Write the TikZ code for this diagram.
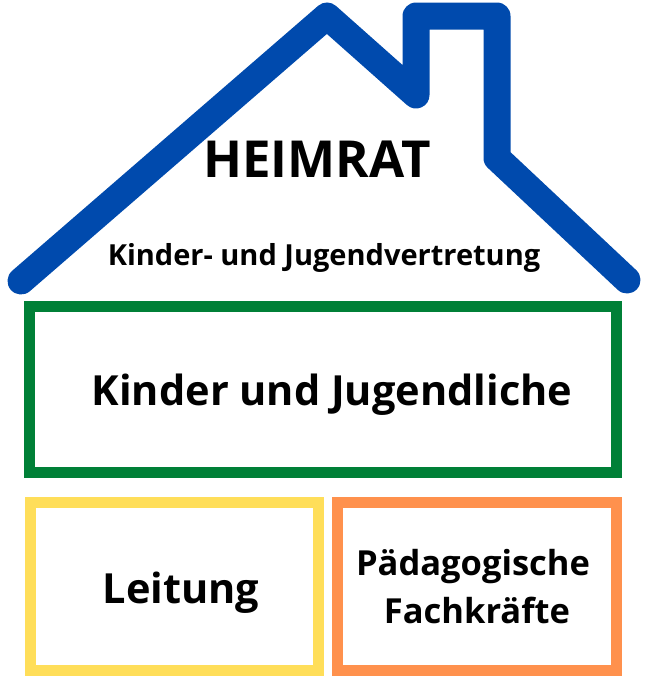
\documentclass[tikz,border=0pt]{standalone}
\usepackage{fontspec}
\setmainfont{Open Sans}
\definecolor{roofblue}{HTML}{004AAD}
\definecolor{boxgreen}{HTML}{008037}
\definecolor{boxyellow}{HTML}{FFDE59}
\definecolor{boxorange}{HTML}{FF914D}
\tikzset{
  roof/.style={draw=roofblue, line width=27pt, line join=round, line cap=round},
  framebox/.style={rectangle, line width=11pt, inner sep=0pt},
  label text/.style={anchor=base, inner sep=0pt, font=\bfseries, text=black}
}
\begin{document}
\begin{tikzpicture}[x=1pt,y=-1pt]
\useasboundingbox[fill=white] (0,0) rectangle (647,689);
% roof
\coordinate (l) at (21,281);
\coordinate (peak) at (327,16);
\coordinate (cb) at (416,95);
\coordinate (ctl) at (416,16);
\coordinate (ctr) at (497,16);
\coordinate (cr) at (497,158);
\coordinate (r) at (627,280);
\draw[roof] (l) -- (peak) -- (cb) -- (ctl) -- (ctr) -- (cr) -- (r);
% boxes
\node[framebox, draw=boxgreen, minimum width=587pt, minimum height=166.5pt] (kj) at (323,389.25) {};
\node[framebox, draw=boxyellow, minimum width=288pt, minimum height=167.5pt] (lt) at (174,586.25) {};
\node[framebox, draw=boxorange, minimum width=279pt, minimum height=167.5pt] (pf) at (477,586.25) {};
% texts
\node[label text, font=\bfseries\fontsize{51}{60}\selectfont] (heim) at (317,177) {HEIMRAT};
\node[label text, font=\bfseries\fontsize{29}{35}\selectfont] (kjv) at (324,265) {Kinder- und Jugendvertretung};
\node[label text, font=\bfseries\fontsize{41.5}{50}\selectfont] (kjt) at (332,405) {Kinder und Jugendliche};
\node[label text, font=\bfseries\fontsize{41.5}{50}\selectfont] (ltt) at (181,603) {Leitung};
\node[label text, font=\bfseries\fontsize{34.5}{41}\selectfont] (pf1) at (473,575) {Pädagogische};
\node[label text, font=\bfseries\fontsize{34.5}{41}\selectfont] (pf2) at (477,623) {Fachkräfte};
\end{tikzpicture}
\end{document}
